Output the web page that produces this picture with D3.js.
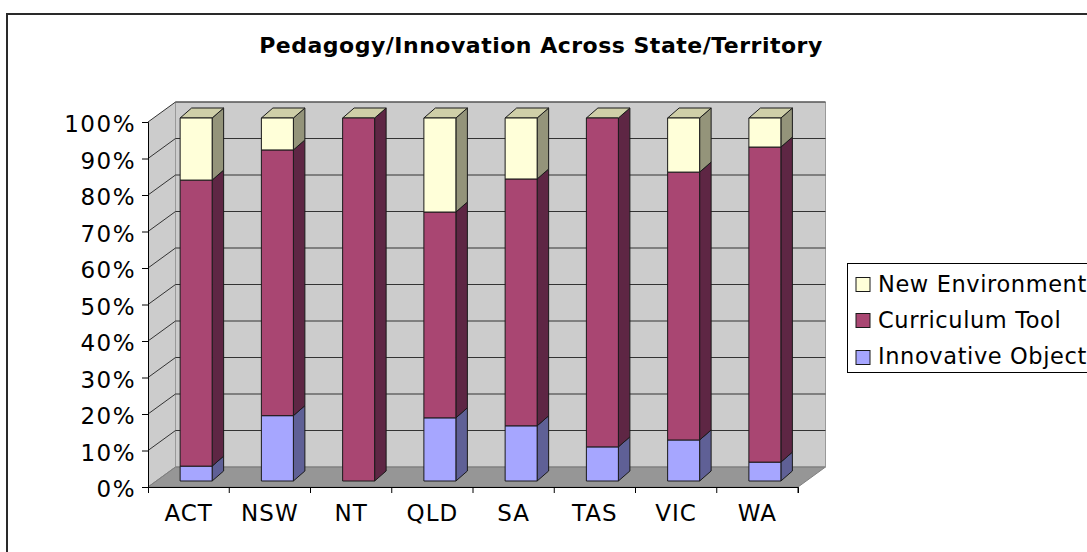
<!DOCTYPE html>
<html>
<head>
<meta charset="utf-8">
<script src="https://cdn.jsdelivr.net/npm/d3@7"></script>
<style>
    html, body { margin: 0; padding: 0; background: #fff; overflow: hidden; }
    text { font-family: "DejaVu Sans", Verdana, sans-serif; fill: #000; }
</style>
</head>
<body>
<svg id="chart" width="1087" height="552"></svg>
<script>
const chartTitle = "Pedagogy/Innovation Across State/Territory";
const states = ["ACT", "NSW", "NT", "QLD", "SA", "TAS", "VIC", "WA"];
const innovativeObject = [4.1, 18, 0, 17.4, 15.2, 9.4, 11.3, 5.2];
const curriculumTool = [78.8, 73.2, 100, 56.7, 68, 90.6, 73.8, 86.8];
const newEnvironment = [17.1, 8.8, 0, 25.9, 16.8, 0, 14.9, 8];
const yTicks = [0, 10, 20, 30, 40, 50, 60, 70, 80, 90, 100];

const seriesList = [
    { name: "Innovative Object", values: innovativeObject, front: "#a6a6ff", side: "#5f6096" },
    { name: "Curriculum Tool", values: curriculumTool, front: "#a94672", side: "#5e2644" },
    { name: "New Environment", values: newEnvironment, front: "#ffffd9", side: "#94947a" }
];
const topFill = "#cfcfa8";

const svg = d3.select("#chart");

// outer frame, only top and left are inside the picture
svg.append("path")
    .attr("d", d3.line()([[7, 552], [7, 14], [1087, 14]]))
    .attr("fill", "none").attr("stroke", "#2a2a2a").attr("stroke-width", 2);

svg.append("text")
    .attr("x", 541).attr("y", 53)
    .attr("text-anchor", "middle")
    .attr("font-size", 22).attr("font-weight", "bold")
    .attr("letter-spacing", 0.5)
    .text(chartTitle);

// front plane of the 3d box
const x = d3.scaleBand().domain(states).range([148, 798]);
const y = d3.scaleLinear().domain([0, 100]).range([487, 122]);
const depth = { x: 27.5, y: -20 };

// bar y scale is shorter, bars sit inside the depth of the box
const barY = d3.scaleLinear().domain([0, 100]).range([481, 118]);
const barW = 32;
const barDepth = { x: 11.5, y: -10 };
const barShift = 7.5;

const walls = svg.append("g");

// back wall
walls.append("rect")
    .attr("x", x.range()[0] + depth.x).attr("y", y(100) + depth.y)
    .attr("width", x.range()[1] - x.range()[0]).attr("height", y(0) - y(100))
    .attr("fill", "#cccccc");

// left wall
walls.append("path")
    .attr("d", d3.line()([
        [x.range()[0], y(0)], [x.range()[0], y(100)],
        [x.range()[0] + depth.x, y(100) + depth.y], [x.range()[0] + depth.x, y(0) + depth.y]
    ]) + "Z")
    .attr("fill", "#cccccc");

// floor
walls.append("path")
    .attr("d", d3.line()([
        [x.range()[0], y(0)], [x.range()[1], y(0)],
        [x.range()[1] + depth.x, y(0) + depth.y], [x.range()[0] + depth.x, y(0) + depth.y]
    ]) + "Z")
    .attr("fill", "#969696").attr("stroke", "#808080");

// wall edges
walls.append("path")
    .attr("d", d3.line()([
        [x.range()[0] + depth.x, y(0) + depth.y], [x.range()[0] + depth.x, y(100) + depth.y],
        [x.range()[1] + depth.x, y(100) + depth.y], [x.range()[1] + depth.x, y(0) + depth.y]
    ]))
    .attr("fill", "none").attr("stroke", "#999").attr("stroke-width", 1);

// gridlines
yTicks.forEach(t => {
    walls.append("path")
        .attr("d", d3.line()([
            [x.range()[0], y(t)], [x.range()[0] + depth.x, y(t) + depth.y], [x.range()[1] + depth.x, y(t) + depth.y]
        ]))
        .attr("fill", "none").attr("stroke", t === 0 ? "#808080" : "#333").attr("stroke-width", 1);
});

// axes
const yAxis = svg.append("g")
    .attr("transform", `translate(${x.range()[0]},0)`)
    .call(d3.axisLeft(y).tickValues(yTicks).tickFormat(d => d + "%").tickSize(6).tickPadding(6));
yAxis.selectAll("text")
    .attr("font-size", 23).attr("letter-spacing", 1.5).attr("dy", "0.43em")
    .style("font-family", '"DejaVu Sans", Verdana, sans-serif');
yAxis.selectAll("line,path").attr("stroke", "#000");

const xAxis = svg.append("g")
    .attr("transform", `translate(0,${y(0)})`)
    .call(d3.axisBottom(x).tickSize(6).tickPadding(12).tickSizeOuter(6));
xAxis.selectAll(".tick line")
    .attr("x1", x.bandwidth() / 2).attr("x2", x.bandwidth() / 2);
xAxis.selectAll("text")
    .attr("font-size", 23).attr("letter-spacing", 1)
    .style("font-family", '"DejaVu Sans", Verdana, sans-serif');
xAxis.selectAll("line,path").attr("stroke", "#000");

// stacked 3d bars, front to back does not matter since they do not overlap
const stack = d3.stack().keys(seriesList.map((s, i) => i)).value((d, k) => seriesList[k].values[d]);
const stacked = stack(d3.range(states.length));

const bars = svg.append("g");
stacked.forEach((layer, k) => {
    const s = seriesList[k];
    layer.forEach((d, i) => {
        if (d[1] - d[0] <= 0) return;
        const x0 = x(states[i]) + x.bandwidth() / 2 + barShift - barW / 2;
        const x1 = x0 + barW;
        const yb = barY(d[0]);
        const yt = barY(d[1]);
        const g = bars.append("g").attr("stroke", "#1a1a1a").attr("stroke-width", 1).attr("stroke-linejoin", "round");
        g.append("path")
            .attr("d", d3.line()([[x1, yb], [x1 + barDepth.x, yb + barDepth.y], [x1 + barDepth.x, yt + barDepth.y], [x1, yt]]) + "Z")
            .attr("fill", s.side);
        // every column ends in the same light cap, also where the top series is 0
        if (d[1] >= 99.99) {
            g.append("path")
                .attr("d", d3.line()([[x0, yt], [x1, yt], [x1 + barDepth.x, yt + barDepth.y], [x0 + barDepth.x, yt + barDepth.y]]) + "Z")
                .attr("fill", topFill);
        }
        g.append("rect")
            .attr("x", x0).attr("y", yt).attr("width", barW).attr("height", yb - yt)
            .attr("fill", s.front);
    });
});

// legend
const legend = svg.append("g");
legend.append("rect")
    .attr("x", 847.5).attr("y", 263.5).attr("width", 250).attr("height", 109)
    .attr("fill", "#fff").attr("stroke", "#000");

const legendRows = seriesList.slice().reverse();
const legendY = d3.scalePoint().domain(legendRows.map(s => s.name)).range([284, 356.5]);
legendRows.forEach(s => {
    legend.append("rect")
        .attr("x", 856).attr("y", Math.round(legendY(s.name) - 7) + 0.5).attr("width", 14).attr("height", 14)
        .attr("fill", s.front).attr("stroke", "#1a1a1a");
    legend.append("text")
        .attr("x", 878).attr("y", legendY(s.name) + 7.5)
        .attr("font-size", 22.5)
        .attr("letter-spacing", 0.6)
        .text(s.name);
});
</script>
</body>
</html>
